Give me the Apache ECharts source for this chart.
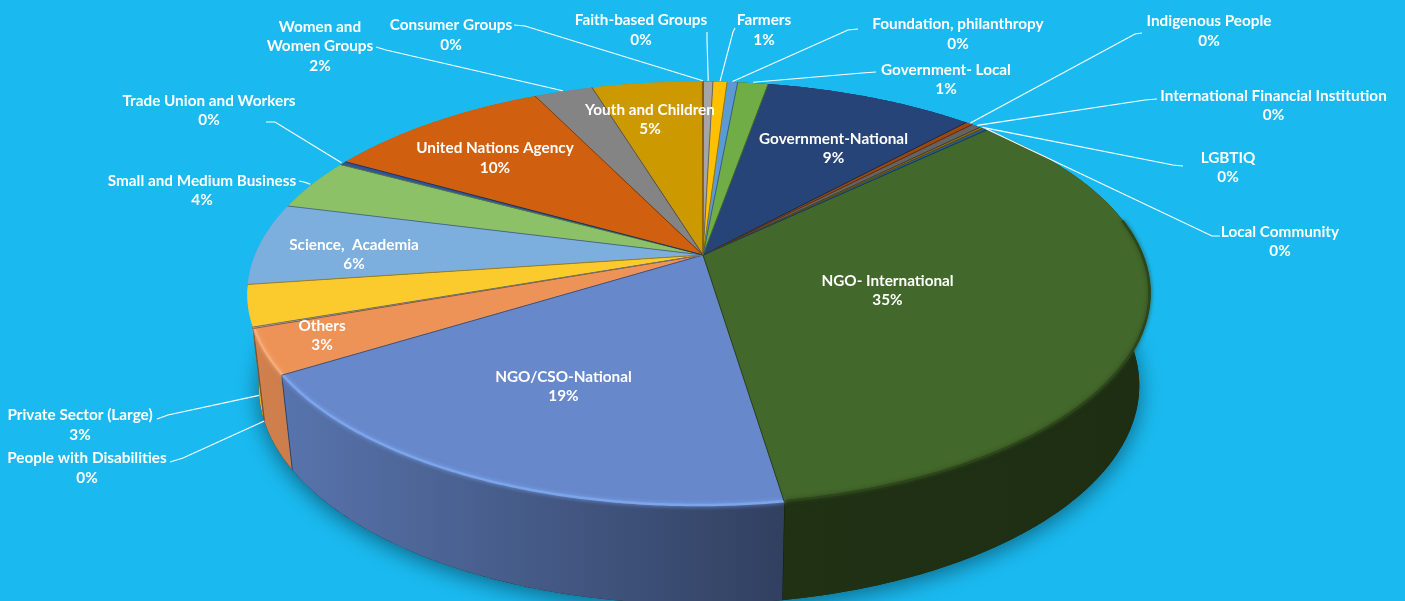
<!DOCTYPE html>
<html>
<head>
<meta charset="utf-8">
<title>Stakeholder groups</title>
<script src="https://cdn.jsdelivr.net/npm/echarts@6/dist/echarts.min.js"></script>
<style>
  html, body { margin: 0; padding: 0; background: #1abaf0; }
  #chart { width: 1405px; height: 601px; }
</style>
</head>
<body>
<div id="chart"></div>
<script>
// data, clockwise from 12 o'clock
const categories = [
  'Consumer Groups', 'Faith-based Groups', 'Farmers', 'Foundation, philanthropy',
  'Government- Local', 'Government-National', 'Indigenous People',
  'International Financial Institution', 'LGBTIQ', 'Local Community',
  'NGO- International', 'NGO/CSO-National', 'Others', 'People with Disabilities',
  'Private Sector (Large)', 'Science,  Academia', 'Small and Medium Business',
  'Trade Union and Workers', 'United Nations Agency', 'Women and\nWomen Groups',
  'Youth and Children'
]
const values = [
  0.05, 0.4, 0.6, 0.45, 1.3, 9.05, 0.3, 0.4, 0.15, 0.2,
  34.75, 18.6, 3.4, 0.1, 3.1, 6.2, 3.9, 0.3, 9.6, 2.5, 4.7
]
const percentLabels = [
  '0%', '0%', '1%', '0%', '1%', '9%', '0%', '0%', '0%', '0%',
  '35%', '19%', '3%', '0%', '3%', '6%', '4%', '0%', '10%', '2%', '5%'
]
const colors = [
  '#ed7d31', '#a5a5a5', '#ffc000', '#5b9bd5', '#70ad47', '#264478', '#9e480e',
  '#636363', '#997300', '#255e91', '#43682b', '#6788cb', '#ee9358', '#b7b7b7',
  '#fbcb2d', '#7cafdd', '#8cc168', '#2f5597', '#d0600f', '#848484', '#cc9a00'
]

// label centres, in page pixels
const labelPos = [
  [451, 35], [641, 30], [764, 30], [958, 34], [946, 79.5], [833.5, 148.5], [1209, 31],
  [1273.5, 105.5], [1228, 167.5], [1280, 241.5], [887.5, 290.5], [563.5, 386.5], [322, 335.5],
  [87, 468], [80, 425], [354, 254.5], [202, 190.5], [209, 110.5], [495, 158], [320, 46.5], [650, 119.5]
]
// leader lines: start and elbow near the label, the far end is worked out from the slice
const leaderStart = {
  0: [[514, 25], [525, 26]],
  1: [[707, 32], [707, 40]],
  2: [[735, 28], [733, 32]],
  3: [[858, 29], [848, 30]],
  4: [[876, 72], [862, 73]],
  6: [[1142, 33], [1135, 34]],
  7: [[1157, 99], [1145, 100]],
  8: [[1183, 166], [1173, 165]],
  9: [[1220, 236], [1212, 236]],
  13: [[170, 462], [183, 458]],
  14: [[157, 419], [168, 415]],
  16: [[299, 181], [304, 182]],
  17: [[266, 122], [275, 122]],
  19: [[376, 47], [386, 50]]
}
// how far down the side wall a leader ends
const leaderDrop = { 13: 1, 14: 0.97 }
const bevelColors = { 10: '#2c451b', 11: '#7da5ec', 12: '#f6ab78' }

// projection of the disc, a circle seen in perspective
const cx = 703
const cy = 255
const Rx = 444
const Ry = 205
const persp = 0.182
const perspX = -0.009
const baseY = 346
const baseScaleX = 0.975
const baseScaleY = 1.03
const startDeg = -0.1

const total = values.reduce((a, b) => a + b, 0)
const startAngles = []
let acc = startDeg
values.forEach(v => {
  startAngles.push(acc)
  acc += v / total * 360
})
const sliceEnd = i => startAngles[i] + values[i] / total * 360

function topPoint (deg, r = 1) {
  const a = deg * Math.PI / 180
  const u = Math.sin(a) * r
  const v = -Math.cos(a) * r
  const s = 1 / (1 - persp * v - perspX * u)
  return [cx + Rx * u * s, cy + Ry * v * s]
}
function basePoint (deg) {
  const p = topPoint(deg)
  return [cx + (p[0] - cx) * baseScaleX, baseY + (p[1] - cy) * baseScaleY]
}
function arc (from, to, fn) {
  const pts = []
  const n = Math.max(2, Math.ceil((to - from) / 0.5))
  for (let k = 0; k <= n; k++) pts.push(fn(from + (to - from) * k / n))
  return pts
}
function shade (hex, f) {
  const c = echarts.color.parse(hex)
  return `rgb(${Math.round(c[0] * f)},${Math.round(c[1] * f)},${Math.round(c[2] * f)})`
}
function wallLight (deg) {
  if (deg <= 171) return 0.44
  return Math.min(0.88, 0.47 + (deg - 171) * 0.38 / 67)
}

const renderBase = () => ({
  type: 'polygon',
  shape: { points: arc(0, 360, basePoint) },
  style: {
    fill: '#1c2a10',
    shadowBlur: 22,
    shadowOffsetY: 5,
    shadowColor: 'rgba(0,0,0,0.45)'
  }
})

const renderWall = (params) => {
  const i = params.dataIndex
  const a0 = startAngles[i]
  const a1 = sliceEnd(i)
  const mid = (a0 + a1) / 2
  const top = arc(a0, a1, topPoint)
  const base = arc(a0, a1, basePoint).reverse()
  const z2 = Math.round(400 - Math.abs(mid - 180))
  return {
    type: 'group',
    children: [
      {
        type: 'polygon',
        z2,
        shape: { points: top.concat(base) },
        style: {
          fill: new echarts.graphic.LinearGradient(0, 0, 1, 0, [
            { offset: 0, color: shade(colors[i], wallLight(a1)) },
            { offset: 1, color: shade(colors[i], wallLight(a0)) }
          ])
        }
      },
      {
        type: 'polyline',
        z2: z2 + 1,
        shape: { points: [topPoint(a1), basePoint(a1)] },
        style: { fill: null, stroke: shade(colors[i], wallLight(a1) * 0.6), lineWidth: 1 }
      }
    ]
  }
}

const renderTop = (params) => {
  const i = params.dataIndex
  const a0 = startAngles[i]
  const a1 = sliceEnd(i)
  const kids = [
    {
      type: 'polygon',
      shape: { points: [[cx, cy]].concat(arc(a0, a1, topPoint)) },
      style: { fill: colors[i] }
    },
    {
      type: 'polyline',
      z2: 5,
      shape: { points: [[cx, cy], topPoint(a1)] },
      style: { fill: null, stroke: shade(colors[i], 0.62), lineWidth: 1 }
    }
  ]
  if (bevelColors[i]) {
    // soft lit edge along the front of the rim
    const from = Math.max(a0, 80)
    kids.push({
      type: 'polyline',
      z2: 3,
      shape: { points: arc(from, a1, d => topPoint(d, 0.998)) },
      style: {
        fill: null,
        stroke: bevelColors[i],
        lineWidth: 2.5,
        shadowBlur: 4,
        shadowColor: bevelColors[i]
      }
    })
  }
  return { type: 'group', children: kids }
}

const renderLabel = (params) => {
  const i = params.dataIndex
  const pos = labelPos[i]
  const kids = [{
    type: 'text',
    z2: 20,
    style: {
      text: categories[i] + '\n' + percentLabels[i],
      x: pos[0],
      y: pos[1],
      align: 'center',
      verticalAlign: 'middle',
      fill: '#ffffff',
      font: 'bold 15.3px Lato',
      lineHeight: 19.5
    }
  }]
  if (leaderStart[i]) {
    const mid = (startAngles[i] + sliceEnd(i)) / 2
    let end = topPoint(mid, 1.005)
    if (leaderDrop[i]) {
      const t = topPoint(mid)
      const b = basePoint(mid)
      end = [t[0] + (b[0] - t[0]) * leaderDrop[i], t[1] + (b[1] - t[1]) * leaderDrop[i]]
    }
    kids.push({
      type: 'polyline',
      z2: 10,
      shape: { points: leaderStart[i].concat([end]) },
      style: { fill: null, stroke: '#ffffff', lineWidth: 1.1 }
    })
  }
  return { type: 'group', children: kids }
}

const chart = echarts.init(document.getElementById('chart'))
const seriesData = categories.map((name, i) => ({ name, value: values[i] }))
chart.setOption({
  backgroundColor: '#1abaf0',
  animation: false,
  series: [
    { type: 'custom', coordinateSystem: 'none', silent: true, z: 1, data: [total], renderItem: renderBase },
    { type: 'custom', coordinateSystem: 'none', silent: true, z: 2, data: seriesData, renderItem: renderWall },
    { type: 'custom', coordinateSystem: 'none', silent: true, z: 3, data: seriesData, renderItem: renderTop },
    { type: 'custom', coordinateSystem: 'none', silent: true, z: 4, data: seriesData, renderItem: renderLabel }
  ]
})
</script>
</body>
</html>
